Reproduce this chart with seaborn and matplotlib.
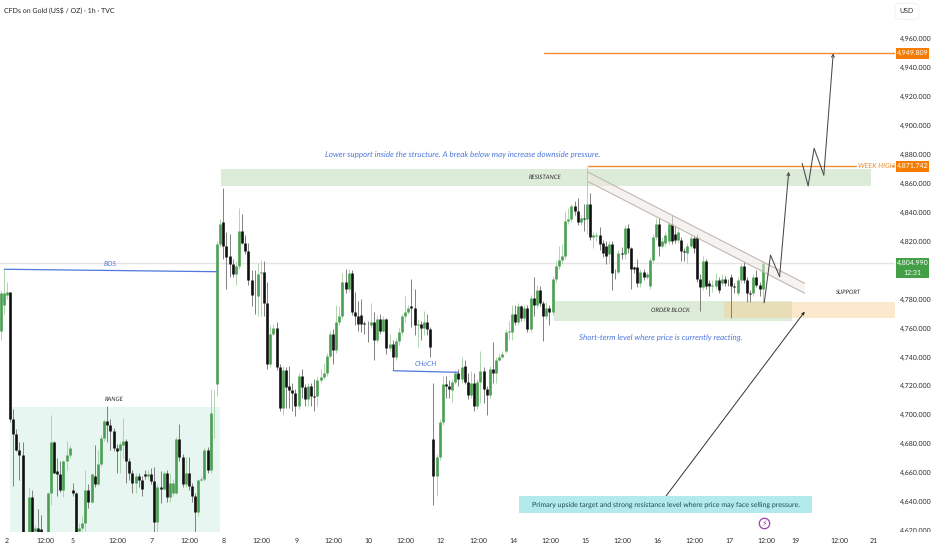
import matplotlib
matplotlib.use('Agg')
import matplotlib.pyplot as plt
from matplotlib.patches import Rectangle, Polygon
from matplotlib.transforms import Bbox, TransformedBbox
import numpy as np
import pandas as pd
import seaborn as sns

# OHLC, one row per 10 hourly bars
opens = [4758,4776,4783,4785,4697,4687,4676,4672,4612,4612,
         4643,4620,4622,4621,4615,4619,4646,4681,4661,4659,
         4648,4668,4672,4648,4646,4620,4622,4625,4648,4640,
         4658,4652,4666,4684,4696,4693,4689,4677,4676,4679,
         4682,4668,4660,4653,4658,4655,4659,4658,4659,4654,
         4626,4650,4649,4660,4643,4646,4646,4683,4671,4652,
         4660,4651,4644,4633,4655,4656,4676,4662,4701,4721,
         4818,4833,4817,4810,4804,4797,4803,4827,4819,4813,
         4793,4783,4782,4798,4799,4777,4735,4756,4760,4733,
         4705,4731,4720,4717,4715,4706,4727,4719,4711,4720,
         4713,4713,4724,4726,4729,4741,4756,4745,4764,4768,
         4792,4787,4798,4771,4768,4769,4763.5,4763,4762,4764,
         4752,4766,4758,4766,4746,4749,4740,4751,4757,4768,
         4771,4775,4774,4762,4763,4760,4764,4759,4683,4658,
         4671,4695,4721,4720,4717,4723,4729,4725,4734,4723,
         4714,4722,4706,4723,4730,4718,4714,4732,4729,4738,
         4740,4744,4757,4757,4770,4764,4775,4767,4774,4759,
         4781,4776,4786,4777,4768,4774,4771,4794,4803,4807,
         4810,4834,4835,4844,4841,4833,4836,4835,4846,4823,
         4823.5,4824,4819,4817,4811,4818,4799,4799,4812,4811,
         4829,4815,4802,4802,4791,4799,4795,4789,4807,4823,
         4832,4817,4819,4820,4832,4825,4821,4821,4813,4812,
         4817,4822,4823,4794,4788,4806,4791,4789,4789,4793,
         4791,4794,4792,4795,4789,4784,4793,4803,4793,4784,
         4784,4795,4790,4787]
closes = [4784,4784,4785,4697,4687,4676,4672,4612,4605,4643,
          4612,4622,4619,4619,4612,4646,4681,4660,4659,4648,
          4668,4672,4677,4646,4618,4622,4625,4648,4640,4659,
          4652,4666,4684,4696,4693,4689,4677,4675,4680,4682,
          4668,4660,4653,4658,4655,4649,4658,4659,4654,4626,
          4650,4649,4660,4643,4653,4653,4683,4671,4652,4660,
          4651,4644,4633,4655,4656,4676,4662,4701,4701.5,4818,
          4832,4817,4809,4804,4797,4803,4827,4819,4813,4793,
          4783,4782.5,4797,4799,4777,4735,4756,4760,4733,4705,
          4731,4719,4717,4715,4706,4727,4719,4711,4720,4713,
          4712.5,4724,4726,4729,4741,4756,4745,4764,4768,4792,
          4787,4798,4771,4768,4763,4763,4763,4762.5,4764,4752,
          4766,4758,4766,4746,4749,4740,4751,4757,4768,4771,
          4774,4774,4762,4763,4760,4764,4759,4747,4658,4671,
          4695,4721,4720,4718,4723,4729,4725,4733,4723,4714,
          4722,4706,4723,4730,4718,4714,4732,4729,4738,4740,
          4742,4757,4758,4770,4764,4775,4767,4774,4759,4781,
          4776,4786,4777,4768,4774,4771,4794,4803,4807,4810,
          4834,4835,4844,4841,4833,4836,4835,4846,4823,4824,
          4824,4818,4812,4810,4818,4798,4798.5,4812,4811,4829,
          4815,4801,4801,4791,4799,4795,4797,4807,4823,4832,
          4817,4820,4824,4832,4820,4821,4826,4813,4812.5,4817,
          4822,4815,4794,4788,4806,4789,4789,4789.5,4793,4786,
          4794,4791,4791.5,4789,4788,4793,4803,4793,4784,4783.5,
          4795,4790,4787,4804.99]
highs = [4786,4801,4792,4785,4704,4690,4681,4681,4618,4650,
         4648,4624,4635,4631,4619,4647,4700,4682,4670,4668,
         4669,4682,4679,4653,4647,4625,4630,4662,4652,4660,
         4679,4676,4686,4697,4706,4697,4691,4680,4681,4698,
         4683,4670,4662,4660,4660,4658,4662,4662,4663,4664,
         4652,4661,4661,4662,4660,4656,4685,4694,4673,4671,
         4671,4653,4646,4656,4658,4677,4678,4718,4717,4820,
         4835,4857,4826,4825,4808,4806,4843,4839,4824,4819,
         4800,4800,4805,4807,4806,4792,4762,4763,4764,4735,
         4734,4733,4734,4722,4718,4729,4732,4721,4722,4722,
         4725,4727,4732,4736,4743,4758,4759,4776,4775,4798,
         4801,4801,4800,4785,4779,4780,4765,4765,4777,4771,
         4769,4770,4768,4767,4756,4752,4753,4760,4770,4782,
         4776,4794,4787,4766,4765,4772,4770,4761,4722,4673,
         4697,4727,4727,4724,4725,4731,4732,4740,4738,4729,
         4730,4729,4725,4744,4733,4720,4734,4750,4740,4743,
         4744,4759,4765,4776,4776,4777,4776,4776,4776,4783,
         4795,4790,4789,4779,4778,4776,4796,4806,4817,4818,
         4841,4843,4846,4848,4850,4838,4846,4871,4853,4826,
         4826,4830,4821,4820,4820,4820,4801,4814,4816,4831,
         4832,4816,4803,4808,4801,4801,4799,4809,4825,4836,
         4836,4823,4826,4834,4838,4831,4830,4823,4815,4819,
         4824,4824,4825,4797,4810,4808,4793,4793,4798,4795,
         4797,4796,4794,4797,4791,4795,4804,4806,4795,4786,
         4797,4800,4792,4806]
lows = [4752,4770,4780,4695,4651,4675,4655,4605,4600,4605,
        4605,4612,4612,4612,4605,4612,4638,4660,4644,4647,
        4643,4662,4670,4644,4612,4612,4620,4620,4636,4639,
        4650,4651,4665,4682,4681,4676,4675,4660,4660,4670,
        4653,4655,4646,4646,4650,4644,4656,4656,4652,4619,
        4619,4639,4648,4640,4640,4644,4645,4668,4650,4650,
        4648,4640,4619,4630,4654,4654,4660,4660,4684,4713,
        4816,4808,4787,4795,4795,4790,4801,4818,4811,4790,
        4775,4770,4768,4768,4768,4732,4733,4755,4731,4703,
        4700,4705,4705,4703,4699,4704,4712,4706,4706,4706,
        4703,4706,4722,4725,4727,4739,4735,4743,4762,4766,
        4784,4785,4769,4762,4758,4757,4756,4750,4760,4738,
        4750,4756,4757,4742,4744,4731,4738,4748,4755,4764,
        4770,4761,4755,4747,4752,4755,4755,4740,4638,4644,
        4669,4693,4712,4712,4709,4721,4720,4722,4721,4711,
        4712,4703,4704,4708,4708,4700,4712,4722,4722,4737,
        4739,4743,4752,4752,4762,4762,4765,4765,4757,4757,
        4768,4774,4775,4751,4766,4762,4769,4792,4801,4805,
        4808,4832,4833,4838,4831,4831,4827,4825,4821,4815,
        4820,4814,4809,4804,4805,4786,4794,4797,4808,4808,
        4812,4787,4798,4788,4788,4793,4794,4787,4805,4821,
        4810,4815,4817,4818,4818,4819,4819,4806,4806,4805,
        4815,4812,4792,4772,4786,4787,4782,4785,4787,4784,
        4789,4789,4789,4767,4784,4782,4791,4791,4778,4778,
        4782,4788,4782,4777]

tick_bars = [2, 14.2, 23.1, 37.2, 48, 60.2, 71, 83.2, 94.4, 106.2, 117.4, 129.2, 140.4,
             152.2, 163.4, 175.2, 186.4, 198.2, 209.4, 221.2, 232.4, 244.2, 253.5, 267.5, 278.4]
tick_labels = ['2', '12:00', '5', '12:00', '7', '12:00', '8', '12:00', '9', '12:00', '10', '12:00', '12',
               '12:00', '14', '12:00', '15', '12:00', '16', '12:00', '17', '12:00', '19', '12:00', '21']
# 4,800 sits behind the live price tag in the picture
price_ticks = [p for p in range(4620, 4961, 20) if p != 4800]

target_high = 4949.809
week_high = 4871.742
last_price = 4804.990
path_one_bars = [243.5, 245.5, 248.4, 251.3]
path_one_prices = [4777.5, 4810.4, 4795.5, 4868]
path_two_bars = [255.6, 257.5, 259.4, 262.5, 265.5]
path_two_prices = [4873.8, 4858.1, 4884.2, 4865.7, 4949.8]

GREEN = '#4a9f53'
GREEN_WICK = '#a8d3a8'
BLACK = '#101010'
BLACK_WICK = '#777777'
ORANGE = '#f28a2e'
BLUE = '#4f78dc'
INK = '#2b2b2b'

sns.set_theme(style='white')
plt.rcParams['font.family'] = ['Lato', 'DejaVu Sans']
plt.rcParams['text.hinting'] = 'no_hinting'
plt.rcParams['text.hinting_factor'] = 1

fig = plt.figure(figsize=(9.32, 5.5), dpi=100, facecolor='white')
ax = fig.add_axes([0, 18.3 / 550, 895 / 932, 531.7 / 550])
ax.set_xlim(-0.214, 285.2)
ax.set_ylim(4619.3, 4986.6)

# zones go under the candles
ax.add_patch(Rectangle((70.4, 4858.3), 207, 11.5, color='#dcecd9', lw=0, zorder=1))
ax.add_patch(Rectangle((3, 4600), 67, 105.2, color='#e8f6f1', lw=0, zorder=1))
ax.add_patch(Rectangle((176.5, 4765), 75.7, 13.9, color='#dcecd9', lw=0, zorder=1))
ax.add_patch(Rectangle((230.8, 4766.7), 55, 11.5, color='#f9c784', alpha=0.4, lw=0, zorder=1.1))
ax.axhline(last_price, color='#e4e4e4', lw=1, zorder=1.2)

# candles
bars = np.arange(len(opens))
side = np.where(np.array(closes) >= np.array(opens), 'up', 'down')
wicks = pd.DataFrame({'bar': np.repeat(bars, 2),
                      'price': np.column_stack([lows, highs]).ravel(),
                      'side': np.repeat(side, 2)})
bodies = pd.DataFrame({'bar': np.repeat(bars, 2),
                       'price': np.column_stack([opens, closes]).ravel(),
                       'side': np.repeat(side, 2)})
sns.lineplot(data=wicks, x='bar', y='price', hue='side', units='bar', estimator=None, sort=False,
             palette={'up': GREEN_WICK, 'down': BLACK_WICK}, linewidth=0.65, legend=False,
             solid_capstyle='butt', zorder=2, ax=ax)
sns.lineplot(data=bodies, x='bar', y='price', hue='side', units='bar', estimator=None, sort=False,
             palette={'up': GREEN, 'down': BLACK}, linewidth=1.9, legend=False,
             solid_capstyle='butt', zorder=3, ax=ax)

# falling channel
ax.add_patch(Polygon([(187.4, 4867.6), (256.4, 4790.9), (256.4, 4784), (187.4, 4861.1)],
                     closed=True, facecolor='#f0e9e2', alpha=0.55, edgecolor='none', zorder=3.5))
ax.plot([187.4, 256.4], [4867.6, 4790.9], color='#c2b9b0', lw=0.8, zorder=4)
ax.plot([187.4, 256.4], [4861.1, 4784], color='#c2b9b0', lw=0.8, zorder=4)

# levels
ax.plot([173.3, 285.2], [target_high, target_high], color=ORANGE, lw=1, zorder=4)
ax.plot([187.4, 272.9], [week_high, week_high], color=ORANGE, lw=1, zorder=4)
ax.plot([284.2, 285.2], [week_high, week_high], color=ORANGE, lw=1, zorder=4)
ax.plot([1.2, 69.1], [4800.6, 4798.9], color=BLUE, lw=0.9, zorder=4)
ax.plot([125.2, 145.7], [4730.5, 4729.4], color=BLUE, lw=0.9, zorder=4)

# projected move
for path_bars, path_prices in [(path_one_bars, path_one_prices), (path_two_bars, path_two_prices)]:
    ax.plot(path_bars[:-1], path_prices[:-1], color='#4a4a4a', lw=0.75, zorder=5)
    ax.annotate('', xy=(path_bars[-1], path_prices[-1]), xytext=(path_bars[-2], path_prices[-2]),
                arrowprops=dict(arrowstyle='->', color='#4a4a4a', lw=0.75, mutation_scale=5,
                                shrinkA=0, shrinkB=0), zorder=5)
ax.annotate('', xy=(256.4, 4771.3), xytext=(212.2, 4644),
            arrowprops=dict(arrowstyle='-|>', color='#333333', lw=0.7, mutation_scale=4,
                            shrinkA=0, shrinkB=0), zorder=5)

# chart notes
ax.text(35, 4804.2, 'BOS', color=BLUE, fontsize=4.8, style='italic', ha='center', va='center', zorder=6)
ax.text(135.5, 4735, 'CHoCH', color=BLUE, fontsize=4.8, style='italic', ha='center', va='center', zorder=6)
ax.text(36.2, 4710.5, 'RANGE', color=INK, fontsize=4.5, style='italic', ha='center', va='center', zorder=6)
ax.text(173.6, 4864, 'RESISTANCE', color=INK, fontsize=4.5, style='italic', ha='center', va='center', zorder=6)
ax.text(213.5, 4772, 'ORDER BLOCK', color=INK, fontsize=4.5, style='italic', ha='center', va='center', zorder=6)
ax.text(270.5, 4785, 'SUPPORT', color=INK, fontsize=4.5, style='italic', ha='center', va='center', zorder=6)
ax.text(273.4, week_high, 'WEEK HIGH', color=ORANGE, fontsize=5, style='italic', ha='left', va='center', zorder=6)
ax.text(103.5, 4879.5, 'Lower support inside the structure. A break below may increase downside pressure.',
        color=BLUE, fontsize=5.8, style='italic', ha='left', va='center', zorder=6)
ax.text(184.5, 4753, 'Short-term level where price is currently reacting.',
        color=BLUE, fontsize=5.9, style='italic', ha='left', va='center', zorder=6)
ax.add_patch(Rectangle((165.3, 4632.2), 93.4, 11.8, facecolor='#b3ebec', edgecolor='none', zorder=6.5))
ax.text(212, 4638, 'Primary upside target and strong resistance level where price may face selling pressure.',
        color='#1d4a52', fontsize=5.4, ha='center', va='center', zorder=7)

# lightning badge
ax.plot([243.5], [4625], marker='o', ms=7.5, mfc='white', mec='#9c3fb0', mew=0.9, zorder=6)
ax.text(243.5, 4625, '\u26a1', color='#9c3fb0', fontsize=5.5, family=['DejaVu Sans'],
        ha='center', va='center', zorder=7)

# axes
ax.set_xlabel('')
ax.set_ylabel('')
sns.despine(ax=ax, left=True, bottom=True, top=True, right=True)
ax.set_xticks(tick_bars)
ax.set_xticklabels(tick_labels)
ax.yaxis.tick_right()
ax.set_yticks(price_ticks)
ax.set_yticklabels([f'{p:,.3f}' for p in price_ticks])
ax.tick_params(axis='x', length=0, pad=4.5, labelsize=5, colors=INK)
ax.tick_params(axis='y', length=0, pad=3.6, labelsize=4.8, colors=INK)
ax.grid(False)

# lowest price tick is cut by the time axis
cut = TransformedBbox(Bbox([[0.9, 18 / 550], [1, 1]]), fig.transFigure)
for label in ax.get_yticklabels():
    label.set_clip_box(cut)
    label.set_clip_on(True)

# price tags, right of the axes
def price_tag(price, text, color, height=11):
    y = 18.3 + (price - 4619.3) / 0.6908
    fig.patches.append(Rectangle((896 / 932, (y - height / 2) / 550), 33 / 932, height / 550,
                                 transform=fig.transFigure, color=color, lw=0))
    fig.text(912.5 / 932, y / 550, text, color='white', fontsize=4.8, ha='center', va='center')

price_tag(target_high, '4,949.809', '#f57c00')
price_tag(week_high, '4,871.742', '#f57c00')
fig.patches.append(Rectangle((896 / 932, 271.7 / 550), 33 / 932, 20 / 550, transform=fig.transFigure,
                             color='#43a047', lw=0))
fig.text(912.5 / 932, 286.5 / 550, f'{last_price:,.3f}', color='white', fontsize=4.8, ha='center', va='center')
fig.text(912.5 / 932, 277 / 550, '12:31', color='white', fontsize=4.8, ha='center', va='center')

fig.text(4 / 932, 539.5 / 550, 'CFDs on Gold (US$ / OZ) \u00b7 1h \u00b7 TVC', color='#222222', fontsize=4.9, va='center')
fig.text(907 / 932, 538.7 / 550, 'USD', color='#333333', fontsize=5, ha='center', va='center',
         bbox=dict(boxstyle='round,pad=0.7', facecolor='white', edgecolor='#f0f0f0', lw=0.6))

fig.savefig('out.png', dpi=100)
plt.close(fig)
